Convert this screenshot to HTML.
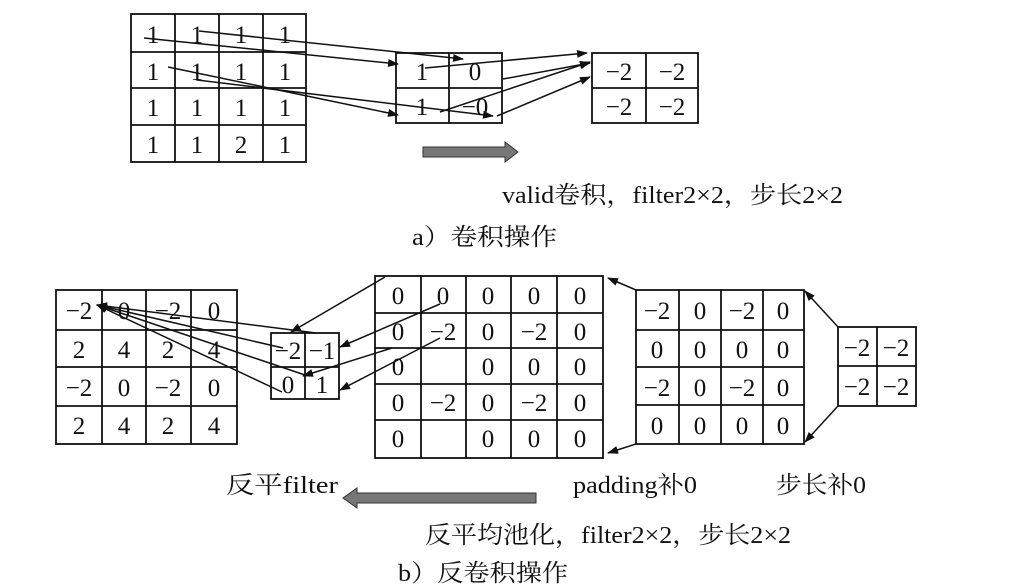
<!DOCTYPE html>
<html><head><meta charset="utf-8"><style>
html,body{margin:0;padding:0;background:#fff;}
svg{display:block;}
text{font-family:"Liberation Serif","Noto Serif CJK SC","Noto Sans CJK SC",serif;fill:#111;}
.n{font-size:25px;text-anchor:middle;}
.c{font-size:24px;}
</style></head><body>
<svg width="1032" height="586" viewBox="0 0 1032 586" xmlns="http://www.w3.org/2000/svg">
<defs>
<marker id="ah" markerWidth="11" markerHeight="8" refX="10" refY="4" orient="auto" markerUnits="userSpaceOnUse">
<path d="M0,0 L11,4 L0,8 z" fill="#111"/></marker>
</defs>
<g stroke="#111" stroke-width="1.8" fill="none">
<rect x="131" y="14" width="175" height="148"/>
<line x1="175" y1="14" x2="175" y2="162"/><line x1="219" y1="14" x2="219" y2="162"/><line x1="263" y1="14" x2="263" y2="162"/>
<line x1="131" y1="52" x2="306" y2="52"/><line x1="131" y1="88" x2="306" y2="88"/><line x1="131" y1="125" x2="306" y2="125"/>
<rect x="396" y="53" width="106" height="70"/><line x1="449" y1="53" x2="449" y2="123"/><line x1="396" y1="88" x2="502" y2="88"/>
<rect x="592" y="53" width="106" height="70"/><line x1="646" y1="53" x2="646" y2="123"/><line x1="592" y1="88" x2="698" y2="88"/>
<rect x="56" y="290" width="181" height="154"/>
<line x1="102" y1="290" x2="102" y2="444"/><line x1="146" y1="290" x2="146" y2="444"/><line x1="191" y1="290" x2="191" y2="444"/>
<line x1="56" y1="330" x2="237" y2="330"/><line x1="56" y1="367" x2="237" y2="367"/><line x1="56" y1="406" x2="237" y2="406"/>
<rect x="271" y="333" width="68" height="66"/><line x1="305" y1="333" x2="305" y2="399"/><line x1="271" y1="367" x2="339" y2="367"/>
<rect x="375" y="276" width="228" height="182"/>
<line x1="421" y1="276" x2="421" y2="458"/><line x1="466" y1="276" x2="466" y2="458"/><line x1="511" y1="276" x2="511" y2="458"/><line x1="557" y1="276" x2="557" y2="458"/>
<line x1="375" y1="313" x2="603" y2="313"/><line x1="375" y1="348" x2="603" y2="348"/><line x1="375" y1="384" x2="603" y2="384"/><line x1="375" y1="420" x2="603" y2="420"/>
<rect x="636" y="290" width="168" height="154"/>
<line x1="679" y1="290" x2="679" y2="444"/><line x1="721" y1="290" x2="721" y2="444"/><line x1="763" y1="290" x2="763" y2="444"/>
<line x1="636" y1="330" x2="804" y2="330"/><line x1="636" y1="367" x2="804" y2="367"/><line x1="636" y1="405" x2="804" y2="405"/>
<rect x="838" y="327" width="78" height="79"/><line x1="877" y1="327" x2="877" y2="406"/><line x1="838" y1="366" x2="916" y2="366"/>
</g>
<g stroke="#111" stroke-width="1.5" fill="none" marker-end="url(#ah)">
<line x1="144" y1="38" x2="398" y2="64"/>
<line x1="199" y1="31" x2="463" y2="59"/>
<line x1="168" y1="67" x2="398" y2="115"/>
<polyline points="197,65 197,80 493,116"/>
<line x1="425" y1="68" x2="587" y2="53"/>
<line x1="503" y1="79" x2="590" y2="63"/>
<line x1="440" y1="112" x2="590" y2="62"/>
<line x1="497" y1="116" x2="590" y2="77"/>
<line x1="385" y1="277" x2="291" y2="332"/>
<line x1="440" y1="304" x2="340" y2="347"/>
<line x1="392" y1="348" x2="303" y2="376"/>
<line x1="440" y1="338" x2="340" y2="390"/>
<line x1="316" y1="333" x2="97" y2="305"/>
<line x1="283" y1="348" x2="97" y2="305"/>
<line x1="305" y1="375" x2="97" y2="305"/>
<line x1="282" y1="392" x2="97" y2="305"/>
<line x1="636" y1="290" x2="608" y2="278"/>
<line x1="636" y1="444" x2="608" y2="453"/>
<line x1="838" y1="327" x2="805" y2="291"/>
<line x1="838" y1="406" x2="805" y2="442"/>
</g>
<path d="M423,147 H505 V142 L518,152 L505,162 V157 H423 Z" fill="#777" stroke="#333" stroke-width="1"/>
<path d="M536,493 H357 V488 L343,498 L357,508 V503 H536 Z" fill="#777" stroke="#333" stroke-width="1"/>
<g class="n">
<text x="153" y="43">1</text><text x="197" y="43">1</text><text x="241" y="43">1</text><text x="285" y="43">1</text>
<text x="153" y="80">1</text><text x="197" y="80">1</text><text x="241" y="80">1</text><text x="285" y="80">1</text>
<text x="153" y="116">1</text><text x="197" y="116">1</text><text x="241" y="116">1</text><text x="285" y="116">1</text>
<text x="153" y="153">1</text><text x="197" y="153">1</text><text x="241" y="153">2</text><text x="285" y="153">1</text>
<text x="422" y="80">1</text><text x="475" y="80">0</text><text x="422" y="115">1</text><text x="475" y="115">−0</text>
<text x="619" y="80">−2</text><text x="672" y="80">−2</text><text x="619" y="115">−2</text><text x="672" y="115">−2</text>

<text x="79" y="319">−2</text><text x="124" y="319">0</text><text x="168" y="319">−2</text><text x="214" y="319">0</text>
<text x="79" y="358">2</text><text x="124" y="358">4</text><text x="168" y="358">2</text><text x="214" y="358">4</text>
<text x="79" y="396">−2</text><text x="124" y="396">0</text><text x="168" y="396">−2</text><text x="214" y="396">0</text>
<text x="79" y="434">2</text><text x="124" y="434">4</text><text x="168" y="434">2</text><text x="214" y="434">4</text>

<text x="288" y="359">−2</text><text x="322" y="359">−1</text><text x="288" y="393">0</text><text x="322" y="393">1</text>

<text x="398" y="304">0</text><text x="443" y="304">0</text><text x="488" y="304">0</text><text x="534" y="304">0</text><text x="580" y="304">0</text>
<text x="398" y="340">0</text><text x="443" y="340">−2</text><text x="488" y="340">0</text><text x="534" y="340">−2</text><text x="580" y="340">0</text>
<text x="398" y="375">0</text><text x="488" y="375">0</text><text x="534" y="375">0</text><text x="580" y="375">0</text>
<text x="398" y="411">0</text><text x="443" y="411">−2</text><text x="488" y="411">0</text><text x="534" y="411">−2</text><text x="580" y="411">0</text>
<text x="398" y="447">0</text><text x="488" y="447">0</text><text x="534" y="447">0</text><text x="580" y="447">0</text>

<text x="657" y="319">−2</text><text x="700" y="319">0</text><text x="742" y="319">−2</text><text x="783" y="319">0</text>
<text x="657" y="358">0</text><text x="700" y="358">0</text><text x="742" y="358">0</text><text x="783" y="358">0</text>
<text x="657" y="396">−2</text><text x="700" y="396">0</text><text x="742" y="396">−2</text><text x="783" y="396">0</text>
<text x="657" y="434">0</text><text x="700" y="434">0</text><text x="742" y="434">0</text><text x="783" y="434">0</text>

<text x="857" y="356">−2</text><text x="896" y="356">−2</text><text x="857" y="395">−2</text><text x="896" y="395">−2</text>
</g>
<g class="c">
<text x="502" y="203" textLength="341" lengthAdjust="spacingAndGlyphs">valid卷积，filter2×2，步长2×2</text>
<text x="412" y="245" textLength="145" lengthAdjust="spacingAndGlyphs">a）卷积操作</text>
<text x="226" y="493" textLength="112" lengthAdjust="spacingAndGlyphs">反平filter</text>
<text x="573" y="493" textLength="124" lengthAdjust="spacingAndGlyphs">padding补0</text>
<text x="776" y="493" textLength="90" lengthAdjust="spacingAndGlyphs">步长补0</text>
<text x="425" y="543" textLength="366" lengthAdjust="spacingAndGlyphs">反平均池化，filter2×2，步长2×2</text>
<text x="398" y="581" textLength="170" lengthAdjust="spacingAndGlyphs">b）反卷积操作</text>
</g>
</svg>
</body></html>
